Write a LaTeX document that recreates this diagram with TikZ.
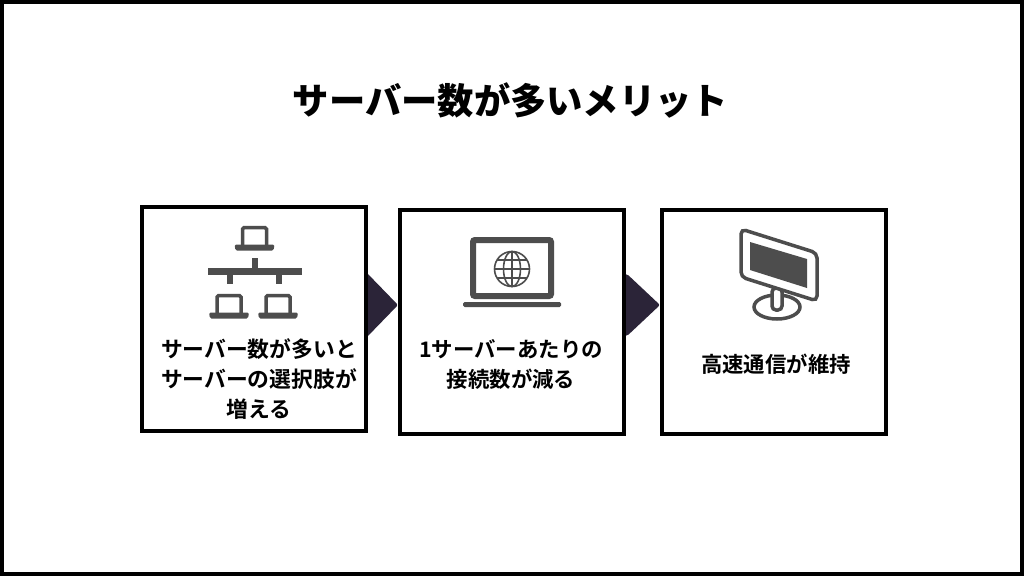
\documentclass[tikz,border=0pt]{standalone}
\usepackage{fontspec}
\setmainfont{Noto Sans CJK JP}[BoldFont={Noto Sans CJK JP Bold}]
\newfontfamily\heavyjp{Noto Sans CJK JP Black}
\definecolor{ink}{HTML}{4D4D4D}
\definecolor{chev}{HTML}{2B2438}
\tikzset{
  card/.style={draw=black,line width=4pt,fill=white,minimum width=224pt,minimum height=224pt,inner sep=0pt},
  cardtext/.style={font=\bfseries\fontsize{21.4}{30}\selectfont,align=center,inner sep=0pt,text=black},
  widetext/.style={font=\bfseries\fontsize{21.8}{30}\selectfont,align=center,inner sep=0pt,text=black},
  titletext/.style={font=\heavyjp\fontsize{36.3}{40}\selectfont,inner sep=0pt,text=black},
  chevron/.style={fill=chev,rounded corners=2pt},
  solid ink/.style={fill=ink},
  line ink/.style={draw=ink,line width=3.5pt},
}
\begin{document}
\begin{tikzpicture}[x=1pt,y=-1pt]
\useasboundingbox (0,0) rectangle (1024,576);
\draw[draw=black,line width=4pt,fill=white] (2,2) rectangle (1022,574);
\node[titletext] (title) at (510.5,100.5) {サーバー数が多いメリット};
% chevrons
\fill[chevron] (360,272) -- (366,272) -- (398,305) [sharp corners] -- (366,338) -- (360,338) -- cycle;
\fill[chevron] (620,274) -- (627,274) -- (660,305) -- (627,336) -- (620,336) -- cycle;
% cards
\node[card] (c1) at (254,319) {};
\node[card] (c2) at (512,322) {};
\node[card] (c3) at (774,322) {};
% card text
\node[widetext] (t1) at (259,379) {サーバー数が多いと\\サーバーの選択肢が\\増える};
\node[cardtext] (t2) at (511,364) {1サーバーあたりの\\接続数が減る};
\node[cardtext] (t3) at (776,364) {高速通信が維持};
% network icon
\foreach \cx/\cy in {254.5/226,229/294,278/294}{
  \draw[ink,line width=3.5pt,rounded corners=1.5pt] (\cx-12,\cy+19) -- (\cx-12,\cy+1.7) -- (\cx+12,\cy+1.7) -- (\cx+12,\cy+19);
  \fill[solid ink,rounded corners=1.5pt] (\cx-20,\cy+18.5) -- (\cx+20,\cy+18.5) -- (\cx+19,\cy+24.5) -- (\cx-19,\cy+24.5) -- cycle;
}
\fill[solid ink] (208,268) rectangle (302,275);
\fill[solid ink] (252,258) rectangle (258,268);
\fill[solid ink] (227,275) rectangle (233,284);
\fill[solid ink] (276,275) rectangle (282,284);
% laptop icon
\draw[ink,line width=6pt,rounded corners=2pt] (473,240) rectangle (551,296);
\fill[solid ink,rounded corners=1.5pt] (463,302) rectangle (561,307);
\begin{scope}[ink,line width=1.6pt]
  \draw (512,269) circle (17.5);
  \draw (512,269) ellipse (8.5 and 17.5);
  \draw (512,251.5) -- (512,286.5);
  \draw (494.5,269) -- (529.5,269);
  \draw (497,260) -- (527,260);
  \draw (497,278) -- (527,278);
\end{scope}
% monitor icon
\draw[line ink] (777,307) ellipse (23 and 12);
\fill[white,draw=ink,line width=3.5pt,rounded corners=4pt] (772,288) -- (772,310) -- (782,310) -- (782,288) -- cycle;
\fill[white,draw=ink,line width=3.5pt,rounded corners=5pt] (741,229) -- (817,253) -- (817,301) -- (741,277) -- cycle;
\fill[solid ink] (750,242) -- (807,259) -- (807,288) -- (750,270) -- cycle;
\end{tikzpicture}
\end{document}
